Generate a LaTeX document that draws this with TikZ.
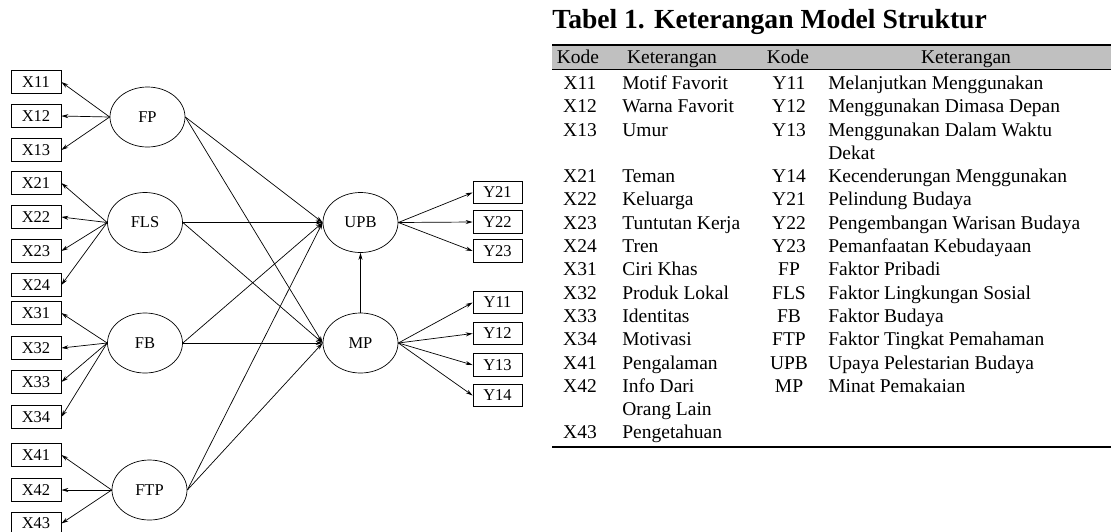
\documentclass[tikz,border=0pt]{standalone}
\usepackage{fontspec}
\setmainfont{Liberation Serif}
\usetikzlibrary{shapes.geometric,arrows.meta}
\definecolor{hdr}{HTML}{C0C0C0}
\begin{document}
\begin{tikzpicture}[x=1pt,y=-1pt,
  line width=0.7pt,
  obs/.style={draw,rectangle,minimum width=50pt,minimum height=22.5pt,inner sep=0pt,font=\fontsize{16.5}{18}\selectfont},
  lat/.style={draw,ellipse,minimum width=75pt,minimum height=60pt,inner sep=0pt,font=\fontsize{16.5}{18}\selectfont},
  arr/.style={-{Stealth[length=7pt,width=4pt]}},
  tbl/.style={font=\fontsize{19.5}{23}\selectfont,inner sep=0pt,anchor=base},
  tbw/.style={tbl,anchor=base west}]
\useasboundingbox (0,0) rectangle (1111,531);

% latent variables
\node[lat] (FP)  at (147.5,117) {FP};
\node[lat] (FLS) at (145,222.5) {FLS};
\node[lat] (FB)  at (145,343) {FB};
\node[lat] (FTP) at (149.5,490) {FTP};
\node[lat] (UPB) at (360.5,222.5) {UPB};
\node[lat] (MP)  at (360.5,343) {MP};

% indicators X
\foreach \n/\y in {X11/82,X12/116,X13/150,X21/183,X22/217,X23/251,X24/285,
                   X31/313,X32/348,X33/382,X34/417,X41/455,X42/490,X43/523.5}
  \node[obs] (\n) at (36,\y) {\n};
% indicators Y
\foreach \n/\y in {Y21/192.5,Y22/222,Y23/251,Y11/302.5,Y12/333.5,Y13/365,Y14/395.5}
  \node[obs,minimum width=49pt] (\n) at (497.5,\y) {\n};

% loadings
\foreach \n in {X11,X12,X13} \draw[arr] (FP.west) -- (\n.east);
\foreach \n in {X21,X22,X23,X24} \draw[arr] (FLS.west) -- (\n.east);
\foreach \n in {X31,X32,X33,X34} \draw[arr] (FB.west) -- (\n.east);
\foreach \n in {X41,X42,X43} \draw[arr] (FTP.west) -- (\n.east);
\foreach \n in {Y21,Y22,Y23} \draw[arr] (UPB.east) -- (\n.west);
\foreach \n in {Y11,Y12,Y13,Y14} \draw[arr] (MP.east) -- (\n.west);

% structural paths
\foreach \n in {FP,FLS,FB,FTP} {
  \draw[arr] (\n.east) -- (UPB.west);
  \draw[arr] (\n.east) -- (MP.west);
}
\draw[arr] (MP.north) -- (UPB.south);

% table
\node[font=\fontsize{27.6}{30}\selectfont\bfseries,inner sep=0pt,anchor=base west] (title) at (552,28) {Tabel 1. Keterangan Model Struktur};
\fill[hdr] (552,45) rectangle (1111,69);
\draw[line width=2pt] (552,45) -- (1111,45);
\draw[line width=0.8pt] (552,69) -- (1111,69);
\draw[line width=2pt] (552,447) -- (1111,447);

\node[tbl] (h1) at (578,63.4) {Kode};
\node[tbl] (h2) at (672,63.4) {Keterangan};
\node[tbl] (h3) at (788,63.4) {Kode};
\node[tbl] (h4) at (966,63.4) {Keterangan};

\foreach \k/\a/\b/\c/\d in {
  0/X11/Motif Favorit/Y11/Melanjutkan Menggunakan,
  1/X12/Warna Favorit/Y12/Menggunakan Dimasa Depan,
  2/X13/Umur/Y13/Menggunakan Dalam Waktu,
  3/{}/{}/{}/Dekat,
  4/X21/Teman/Y14/Kecenderungan Menggunakan,
  5/X22/Keluarga/Y21/Pelindung Budaya,
  6/X23/Tuntutan Kerja/Y22/Pengembangan Warisan Budaya,
  7/X24/Tren/Y23/Pemanfaatan Kebudayaan,
  8/X31/Ciri Khas/FP/Faktor Pribadi,
  9/X32/Produk Lokal/FLS/Faktor Lingkungan Sosial,
  10/X33/Identitas/FB/Faktor Budaya,
  11/X34/Motivasi/FTP/Faktor Tingkat Pemahaman,
  12/X41/Pengalaman/UPB/Upaya Pelestarian Budaya,
  13/X42/Info Dari/MP/Minat Pemakaian,
  14/{}/Orang Lain/{}/{},
  15/X43/Pengetahuan/{}/{}} {
  \pgfmathsetmacro{\yy}{89.4+23.3*\k}
  \node[tbl] (r\k a) at (580,\yy) {\a};
  \node[tbw] (r\k b) at (622,\yy) {\b};
  \node[tbl] (r\k c) at (789,\yy) {\c};
  \node[tbw] (r\k d) at (828,\yy) {\d};
}
\end{tikzpicture}
\end{document}
